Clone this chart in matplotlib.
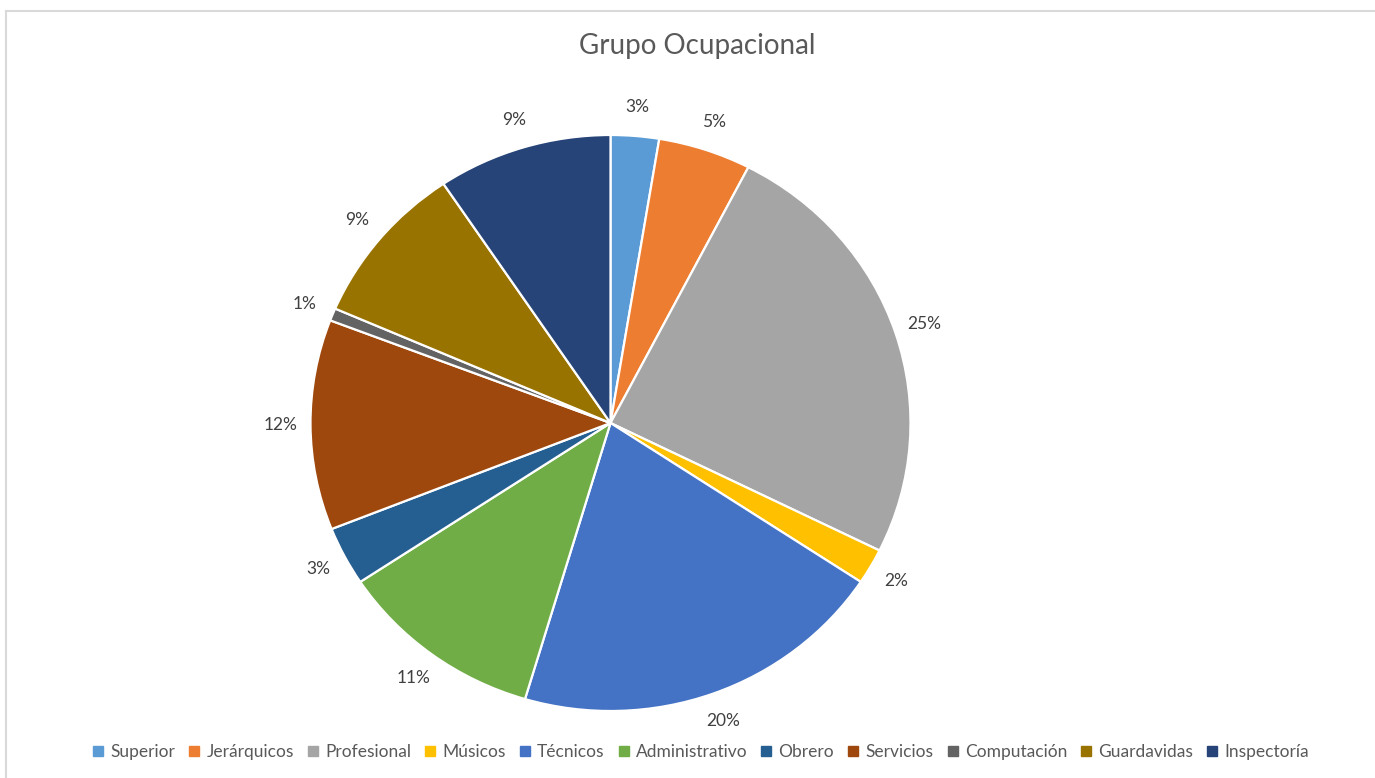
import matplotlib
matplotlib.use("Agg")
import matplotlib.pyplot as plt
from matplotlib.lines import Line2D

categories = ["Superior", "Jerárquicos", "Profesional", "Músicos", "Técnicos",
              "Administrativo", "Obrero", "Servicios", "Computación",
              "Guardavidas", "Inspectoría"]
values = [2.6, 5.0, 24.7, 2.0, 20.3, 11.1, 3.3, 11.8, 0.7, 9.1, 9.4]
colors = ["#5B9BD5", "#ED7D31", "#A5A5A5", "#FFC000", "#4472C4", "#70AD47",
          "#255E91", "#9E480E", "#636363", "#997300", "#264478"]
title = "Grupo Ocupacional"

plt.rcParams['font.family'] = ['Lato', 'DejaVu Sans']

W, H = 1375, 778
fig = plt.figure(figsize=(W / 100, H / 100), dpi=100)

# border (top and left visible)
fig.add_artist(Line2D([6 / W, 1.0], [1 - 11 / H, 1 - 11 / H], color="#D9D9D9", lw=1.5))
fig.add_artist(Line2D([6 / W, 6 / W], [1 - 11 / H, 0.0], color="#D9D9D9", lw=1.5))

cx, cy, rx, ry = 610.5, 423, 300, 288
ax = fig.add_axes([(cx - rx) / W, 1 - (cy + ry) / H, 2 * rx / W, 2 * ry / H])
wedges, texts, autotexts = ax.pie(
    values, colors=colors, startangle=90, counterclock=False,
    autopct=lambda p: f"{p:.0f}%", pctdistance=1.1,
    wedgeprops=dict(edgecolor="white", linewidth=1.6),
    textprops=dict(color="#404040", fontsize=12.5))
for t in autotexts:
    t.set_clip_on(False)
ax.set_aspect('auto')
ax.set_xlim(-1, 1)
ax.set_ylim(-1, 1)
ax.axis('off')

fig.text(697 / W, 1 - 46 / H, title, ha='center', va='center',
         fontsize=20, color="#595959")

handles = [Line2D([], [], marker='s', linestyle='none', markersize=7,
                  markerfacecolor=c, markeredgecolor=c) for c in colors]
fig.legend(handles, categories, loc='center', bbox_to_anchor=(701 / W, 1 - 752 / H),
           ncol=len(categories), frameon=False, fontsize=12.5,
           labelcolor="#595959", handlelength=0.6, handletextpad=0.4,
           columnspacing=0.8, borderpad=0)

fig.savefig("out.png", dpi=100)
